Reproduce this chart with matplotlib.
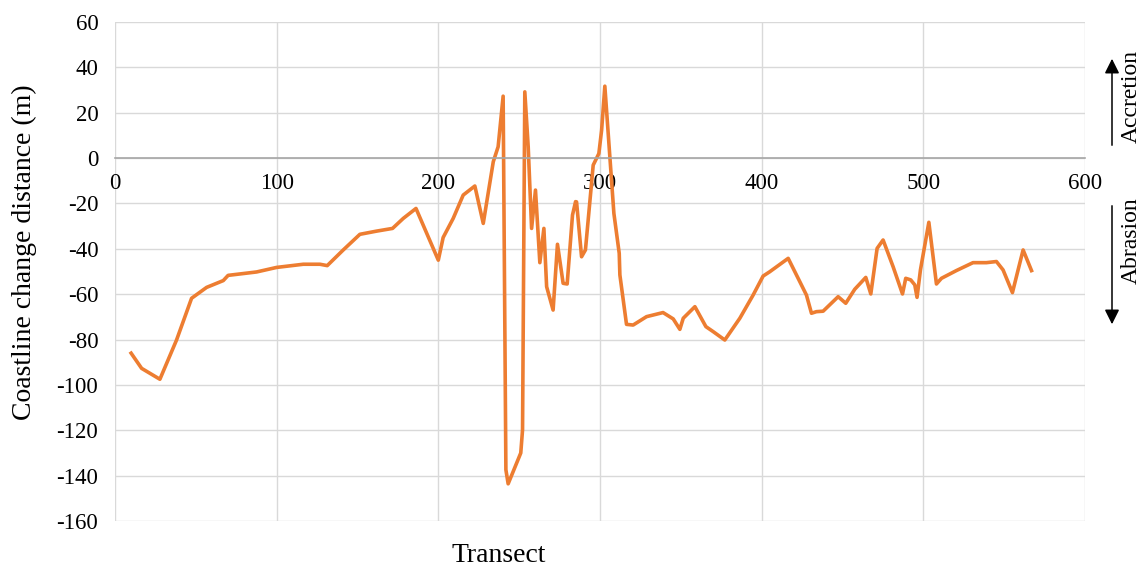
import numpy as np
import matplotlib.pyplot as plt
from matplotlib.patches import FancyArrowPatch

plt.rcParams['font.family'] = ['Liberation Serif', 'DejaVu Serif']
plt.rcParams['axes.unicode_minus'] = False

# transect number vs coastline change distance (m)
transect = [10, 16.5, 27.8, 38.1, 47.4, 56.7, 67, 70, 87.6, 100,
            116.5, 126.8, 131.3, 141.2, 151.5, 161.8, 171.7, 178.3, 186.2, 200,
            203, 209.2, 215.4, 222.6, 227.8, 234, 237, 240.1, 241.8, 243.2,
            246.3, 251, 252.1, 253.5, 255.6, 257.7, 260.1, 262.8, 265.3, 267,
            271, 273.7, 277.2, 279.7, 283, 284.9, 285.5, 288.6, 291, 295.8,
            299.3, 301, 303, 306.1, 308.6, 311.9, 312.3, 316.4, 320.5, 328.8,
            339, 345.3, 349.4, 351.5, 358.7, 365.5, 370, 377.2, 386.5, 394.7,
            400.9, 405, 416.4, 423.6, 427.7, 430.8, 433.9, 438, 447.3, 452,
            457.6, 464.4, 467.5, 471.4, 475.1, 481.3, 487.1, 489.1, 492.2, 494.7,
            496.1, 498.2, 503.4, 508.1, 511.2, 520.4, 530.7, 539, 545.2, 549.3,
            555.1, 558.6, 561.7, 566.9]
change = [-86, -92.7, -97.5, -80.2, -61.8, -57, -54, -51.7, -50.2, -48.2,
          -46.8, -46.8, -47.4, -40.5, -33.6, -32.2, -31, -26.6, -22.2, -45,
          -35, -26.6, -16.3, -12.3, -28.8, -1.6, 5, 27.3, -137.4, -143.6,
          -138.2, -130, -119.8, 29.2, 5, -31, -14.1, -46.1, -31, -56.7,
          -67, -38, -55.2, -55.5, -25.1, -19.2, -19.3, -43.5, -40.5, -3.1,
          2, 12.3, 31.7, 0.6, -24.4, -42, -51.5, -73.3, -73.6, -69.9,
          -68.1, -70.9, -75.5, -70.6, -65.5, -74.3, -76.5, -80.2, -70.6, -60.4,
          -52, -50.1, -44.2, -54.5, -60.4, -68.4, -67.7, -67.5, -61.1, -64,
          -57.8, -52.6, -59.9, -39.8, -36.1, -47.9, -59.9, -53, -53.7, -55.9,
          -61.4, -49.3, -28.3, -55.5, -53, -49.6, -46.1, -46.1, -45.6, -49.3,
          -59.3, -49.3, -40.5, -49.6]

fig = plt.figure(figsize=(11.46, 5.67), dpi=100)
ax = fig.add_axes([0.1003, 0.0811, 0.8465, 0.8801])

ax.plot(transect, change, color='#ED7D31', lw=2.6, solid_joinstyle='round')

ax.set_xlim(0, 600)
ax.set_ylim(-160, 60)
ax.set_xticks(np.arange(0, 601, 100))
ax.set_yticks(np.arange(-160, 61, 20))
ax.grid(True, color='#D9D9D9', lw=1.0)
ax.set_axisbelow(True)

for s in ['top', 'right', 'left']:
    ax.spines[s].set_visible(False)
ax.spines['bottom'].set_position(('data', 0))
ax.spines['bottom'].set_color('#A6A6A6')
ax.spines['bottom'].set_linewidth(1.2)

ax.tick_params(axis='both', length=0, labelsize=16.5, colors='black')
ax.tick_params(axis='x', pad=11)
ax.tick_params(axis='y', pad=12)

fig.text(0.435, 0.008, 'Transect', fontsize=20, ha='center', va='baseline')
fig.text(0.021, 0.555, 'Coastline change distance (m)', fontsize=20,
         rotation=90, ha='center', va='center')

# accretion / abrasion direction markers
H = 567.0
fig.text(1131 / 1146, 1 - 97 / H, 'Accretion', fontsize=17, rotation=90,
         ha='center', va='center')
fig.text(1131 / 1146, 1 - 241 / H, 'Abrasion', fontsize=17, rotation=90,
         ha='center', va='center')
arrow = dict(arrowstyle='-|>', color='black', lw=1.1, mutation_scale=22)
fig.add_artist(FancyArrowPatch((1112 / 1146, 1 - 148 / H), (1112 / 1146, 1 - 56 / H),
                               transform=fig.transFigure, **arrow))
fig.add_artist(FancyArrowPatch((1112 / 1146, 1 - 203 / H), (1112 / 1146, 1 - 327 / H),
                               transform=fig.transFigure, **arrow))

fig.savefig('out.png', dpi=100)
